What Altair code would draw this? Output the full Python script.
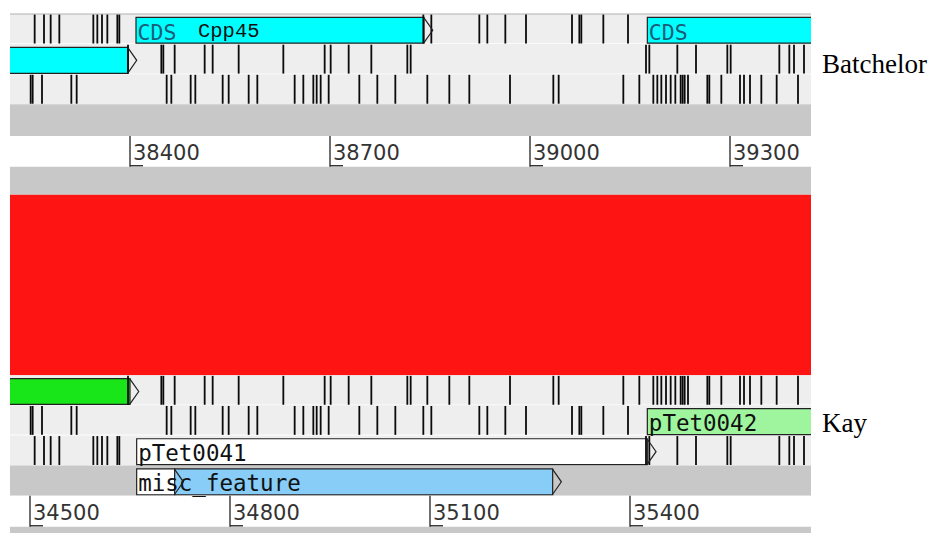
import altair as alt
import pandas as pd

# ---------------- data ----------------
genome_names = ["Batchelor", "Kay"]

# visible sequence range (bp) of each panel
bat_range = [38220, 39421.5]
kay_range = [34470, 35671.5]

# ruler ticks
bat_ticks = [38400, 38700, 39000, 39300]
kay_ticks = [34500, 34800, 35100, 35400]

# stop codons (bp), Batchelor forward-frame rows 0, 1, 2
bat_stops_r0 = [38257, 38271, 38281, 38294, 38345, 38351, 38358, 38366, 38381, 38384,
                38840, 38852, 38924, 38936, 38963, 38994, 39063, 39074, 39077, 39110, 39147]
bat_stops_r1 = [38397, 38447, 38450, 38467, 38512, 38524, 38563, 38630, 38692, 38701, 38728,
                38762, 38816, 38821, 39174, 39179, 39221, 39249, 39296, 39301, 39374, 39389,
                39396, 39411]
bat_stops_r2 = [38251, 38254, 38268, 38312, 38320, 38455, 38462, 38491, 38498, 38539, 38548,
                38578, 38591, 38647, 38660, 38675, 38680, 38686, 38698, 38744, 38771, 38798,
                38846, 38879, 38909, 38970, 39035, 39043, 39140, 39164, 39185, 39191, 39197,
                39204, 39211, 39218, 39226, 39229, 39232, 39237, 39266, 39269, 39287, 39315,
                39321, 39330, 39347, 39370, 39402]

# stop codons (bp), Kay forward-frame rows 12, 13, 14
kay_stops_r12 = [34647, 34697, 34700, 34717, 34762, 34774, 34813, 34880, 34942, 34951, 34978,
                 35012, 35066, 35071, 35096, 35129, 35159, 35220, 35285, 35293, 35390, 35414,
                 35435, 35441, 35447, 35454, 35461, 35468, 35476, 35479, 35482, 35487, 35516,
                 35519, 35537, 35565, 35571, 35580, 35597, 35620, 35652]
kay_stops_r13 = [34501, 34504, 34518, 34562, 34570, 34705, 34712, 34741, 34748, 34789, 34798,
                 34828, 34841, 34897, 34910, 34925, 34930, 34936, 34948, 34994, 35021, 35048,
                 35090, 35102, 35174, 35186, 35213, 35244, 35313, 35324, 35327, 35360, 35397]
kay_stops_r14 = [34507, 34521, 34531, 34544, 34595, 34601, 34608, 34616, 34631, 34634,
                 35424, 35429, 35471, 35499, 35546, 35551, 35624, 35639, 35646, 35661]

# features
bat_feat_start = [38000, 38409, 39176]
bat_feat_end = [38397, 38841, 39700]
bat_feat_row = [1, 0, 0]
bat_feat_colour = ["#00ffff", "#00ffff", "#00ffff"]
bat_feat_key = ["", "CDS", "CDS"]
bat_feat_name = ["", "Cpp45", ""]

kay_feat_start = [34300, 34660, 35426, 34660, 34717]
kay_feat_end = [34650, 35426, 35900, 34717, 35284]
kay_feat_row = [12, 14, 13, 15, 15]
kay_feat_colour = ["#18e618", "#ffffff", "#9ef59e", "#ffffff", "#87cdf8"]
kay_feat_label = ["", "pTet0041", "pTet0042", "misc_feature", ""]

# background bands (row units, top to bottom)
band_top = [0, 1, 2, 3, 4.05, 5.07, 6, 12, 13, 14, 15, 16, 17.03]
band_bottom = [0.97, 1.98, 2.99, 4.05, 5.07, 6, 12, 12.97, 13.97, 15, 16, 17.03, 17.3]
band_colour = ["#eeeeee", "#eeeeee", "#eeeeee", "#c8c8c8", "#ffffff", "#c8c8c8", "#ff1414",
               "#eeeeee", "#eeeeee", "#eeeeee", "#c8c8c8", "#ffffff", "#c8c8c8"]

# ---------------- layout ----------------
W, H = 801, 519
YD = [0, 17.24]
ys = alt.Scale(domain=YD, reverse=True, nice=False, zero=False)


def stops_df(rows):
    recs = []
    for row, vals in rows:
        for v in vals:
            recs.append({"pos": v, "row": row})
    return pd.DataFrame(recs)


def panel(xr, stops, fstart, fend, frow, fcol, keys, names, ticks, axis_row, name, name_y,
          label_font, label_size, label_dy, key_colour):
    xs = alt.Scale(domain=xr, nice=False, zero=False)
    X = lambda f: alt.X(f, scale=xs, axis=None)
    Y = lambda f: alt.Y(f, scale=ys, axis=None)

    feats = pd.DataFrame({"start": fstart, "end": fend, "row": frow, "colour": fcol,
                          "key": keys, "name": names})
    sdf = stops_df(stops)

    boxes = alt.Chart(feats).mark_rect(stroke="#222222", strokeWidth=1.2, clip=True).encode(
        x=X("start:Q"), x2="end:Q", y=Y("y0:Q"), y2="y1:Q",
        fill=alt.Fill("colour:N", scale=None)
    ).transform_calculate(y0="datum.row + 0.11", y1="datum.row + 0.97")

    stop_rules = alt.Chart(sdf).mark_rule(color="#0a0a0a", strokeWidth=1.8, clip=True).encode(
        x=X("pos:Q"), y=Y("y0:Q"), y2="y1:Q"
    ).transform_calculate(y0="datum.row + 0.02", y1="datum.row + 0.98")

    arrows = alt.Chart(feats).mark_point(
        shape="M0,-1L0.7,0L0,1", filled=False, stroke="#222222", strokeWidth=1.2,
        size=620, opacity=1, clip=True
    ).encode(x=X("end:Q"), y=Y("ym:Q")).transform_calculate(ym="datum.row + 0.54")

    key_text = alt.Chart(feats).mark_text(
        align="left", baseline="alphabetic", font=label_font, fontSize=label_size,
        color=key_colour, dx=1.5, clip=True
    ).encode(x=X("start:Q"), y=Y("yt:Q"), text="key:N").transform_calculate(
        yt="datum.row + %f" % label_dy)

    layers = [boxes, stop_rules, key_text, arrows]

    if any(names):
        name_text = alt.Chart(feats).mark_text(
            align="left", baseline="alphabetic", font="Liberation Mono", fontSize=20.5,
            color="#111111", dx=62, clip=True
        ).encode(x=X("start:Q"), y=Y("yt:Q"), text="name:N").transform_calculate(
            yt="datum.row + 0.76")
        layers.append(name_text)

    tdf = pd.DataFrame({"pos": ticks, "label": [str(t) for t in ticks]})
    a0, a1 = axis_row
    tick_v = alt.Chart(tdf).mark_rule(color="#222222", strokeWidth=1.3).encode(
        x=X("pos:Q"), y=alt.Y(datum=a0, scale=ys, axis=None), y2=alt.datum(a1))
    tick_h = alt.Chart(tdf).mark_rule(color="#222222", strokeWidth=1.3, x2Offset=13).encode(
        x=X("pos:Q"), x2="pos:Q", y=alt.Y(datum=a1 - 0.03, scale=ys, axis=None))
    tick_t = alt.Chart(tdf).mark_text(
        align="left", baseline="alphabetic", font="DejaVu Sans", fontSize=21,
        color="#333333", dx=3
    ).encode(x=X("pos:Q"), y=alt.Y(datum=a0 + 0.8, scale=ys, axis=None), text="label:N")
    layers += [tick_v, tick_h, tick_t]

    ndf = pd.DataFrame({"pos": [xr[1]], "label": [name]})
    name_mark = alt.Chart(ndf).mark_text(
        align="left", baseline="alphabetic", font="Liberation Serif", fontSize=27,
        color="#000000", dx=11
    ).encode(x=X("pos:Q"), y=alt.Y(datum=name_y, scale=ys, axis=None), text="label:N")
    layers.append(name_mark)
    return layers


bands_df = pd.DataFrame({"y0": band_top, "y1": band_bottom, "colour": band_colour})
bands = alt.Chart(bands_df).mark_rect().encode(
    x=alt.value(0), x2=alt.value(W),
    y=alt.Y("y0:Q", scale=ys, axis=None), y2="y1:Q",
    fill=alt.Fill("colour:N", scale=None)
)
top_line = alt.Chart(pd.DataFrame({"y": [0]})).mark_rule(color="#b0b0b0", strokeWidth=1).encode(
    x=alt.value(0), x2=alt.value(W), y=alt.Y("y:Q", scale=ys, axis=None))

top_layers = panel(bat_range,
                   [(0, bat_stops_r0), (1, bat_stops_r1), (2, bat_stops_r2)],
                   bat_feat_start, bat_feat_end, bat_feat_row, bat_feat_colour,
                   bat_feat_key, bat_feat_name, bat_ticks, (4.05, 5.07),
                   genome_names[0], 1.96, "DejaVu Sans Mono", 21.5, 0.88, "#1b5c78")
bot_layers = panel(kay_range,
                   [(12, kay_stops_r12), (13, kay_stops_r13), (14, kay_stops_r14)],
                   kay_feat_start, kay_feat_end, kay_feat_row, kay_feat_colour,
                   kay_feat_label, ["" for _ in kay_feat_label], kay_ticks, (16.0, 17.03),
                   genome_names[1], 13.89, "DejaVu Sans Mono", 22.5, 0.84, "#111111")

top = alt.layer(bands, top_line, *top_layers)
bottom = alt.layer(*bot_layers)

chart = alt.layer(top, bottom).resolve_scale(x="independent").properties(
    width=W, height=H,
    padding={"left": 2, "top": 6, "right": 117, "bottom": 0},
    autosize=alt.AutoSizeParams(type="none"),
    background="#ffffff",
).configure_view(stroke=None)

chart.save("out.html", embed_options={"renderer": "svg", "actions": False})
